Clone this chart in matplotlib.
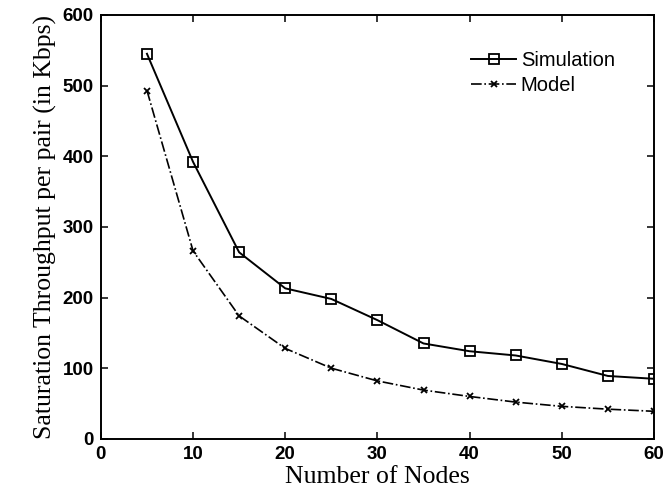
import matplotlib
matplotlib.use("Agg")
import matplotlib.pyplot as plt

nodes = [5, 10, 15, 20, 25, 30, 35, 40, 45, 50, 55, 60]
simulation = [545, 392, 264, 213, 198, 168, 135, 124, 118, 106, 89, 85]
model = [493, 266, 174, 128, 100, 82, 69, 60, 52, 46, 42, 39]

fig = plt.figure(figsize=(6.68, 4.97), dpi=100)
ax = fig.add_axes([0.151, 0.117, 0.828, 0.853])

ax.plot(nodes, simulation, "-", color="k", lw=1.4, marker="s", ms=7,
        mfc="none", mec="k", mew=1.3, label="Simulation")
ax.plot(nodes, model, "-.", color="k", lw=1.2, marker="x", ms=5,
        mew=1.3, label="Model")

ax.set_xlim(0, 60)
ax.set_ylim(0, 600)
ax.set_xticks(range(0, 61, 10))
ax.set_yticks(range(0, 601, 100))
ax.tick_params(direction="in", top=True, right=True, length=5, width=1.1,
               labelsize=13.5, pad=5)
for lab in ax.get_xticklabels() + ax.get_yticklabels():
    lab.set_fontfamily("Liberation Sans")
    lab.set_fontweight("bold")
for s in ax.spines.values():
    s.set_linewidth(1.4)

ax.set_xlabel("Number of Nodes", fontfamily="Liberation Serif", fontsize=18.5, labelpad=2)
ax.set_ylabel("Saturation Throughput per pair (in Kbps)",
              fontfamily="Liberation Serif", fontsize=18.5, labelpad=4)

ax.legend(loc="upper right", frameon=False, prop={"family": "Liberation Sans", "size": 14.5},
          handlelength=2.2, handletextpad=0.25, labelspacing=0.3,
          borderpad=0, borderaxespad=0, bbox_to_anchor=(0.929, 0.915))

fig.savefig("out.png", dpi=100)
